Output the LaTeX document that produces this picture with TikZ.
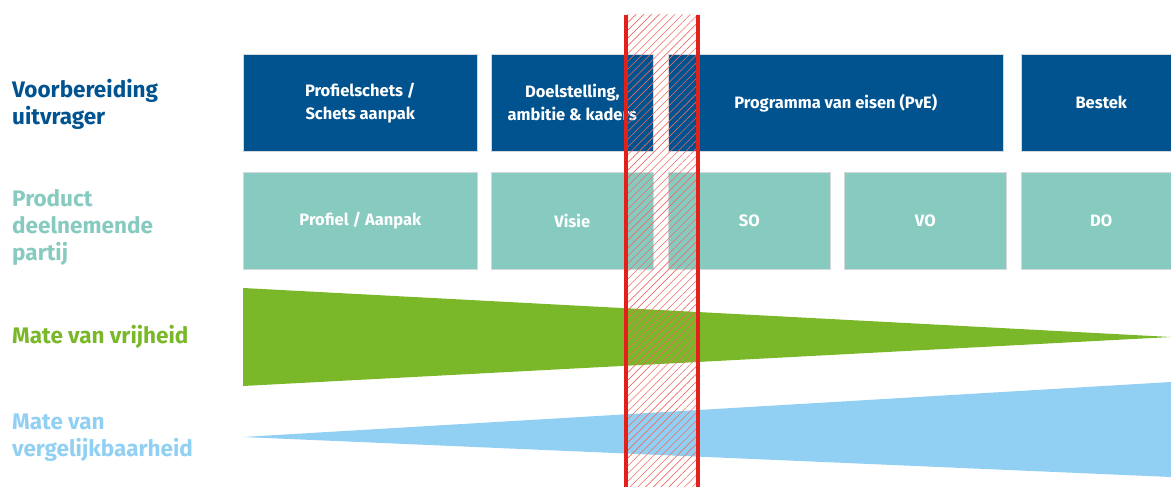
\documentclass[tikz,border=0pt]{standalone}
\usepackage{fontspec}
\setmainfont{Fira Sans}
\usetikzlibrary{patterns.meta}
\definecolor{dblue}{HTML}{01538F}
\definecolor{teal}{HTML}{87CABF}
\definecolor{vgreen}{HTML}{7AB829}
\definecolor{lblue}{HTML}{91D0F3}
\definecolor{vred}{HTML}{E2221A}
\definecolor{hatchred}{HTML}{EE6A64}
\definecolor{boxedge}{HTML}{D4D8DA}
\begin{document}
\begin{tikzpicture}[x=1pt,y=-1pt,
  box/.style={draw=boxedge, line width=0.6pt, anchor=north west, inner sep=0pt,
    font=\bfseries\fontsize{16.5}{23}\selectfont, text=white, align=center,
    minimum height=97pt},
  lab/.style={anchor=west, align=left, inner sep=0pt,
    font=\bfseries\fontsize{22.5}{27}\selectfont}]
\useasboundingbox (0,0) rectangle (1171,487);
\clip (0,0) rectangle (1171,487);
% labels
\node[lab, text=dblue] (l1) at (12,104) {Voorbereiding\\uitvrager};
\node[lab, text=teal] (l2) at (12,227) {Product\\deelnemende\\partij};
\node[lab, text=vgreen] (l3) at (12,337) {Mate van vrijheid};
\node[lab, text=lblue] (l4) at (12,438) {Mate van\\vergelijkbaarheid};
% top row
\node[box, fill=dblue, minimum width=234pt] (b1) at (243,54) {Profielschets /\\Schets aanpak};
\node[box, fill=dblue, minimum width=162pt] (b2) at (491,54) {Doelstelling,\\ambitie \& kaders};
\node[box, fill=dblue, minimum width=335pt] (b3) at (668,54) {Programma van eisen (PvE)};
\node[box, fill=dblue, minimum width=160pt] (b4) at (1021,54) {Bestek};
% second row
\node[box, fill=teal, minimum width=234pt] (c1) at (243,172) {Profiel / Aanpak};
\node[box, fill=teal, minimum width=162pt] (c2) at (491,172) {Visie};
\node[box, fill=teal, minimum width=162pt] (c3) at (668,172) {SO};
\node[box, fill=teal, minimum width=162pt] (c4) at (844,172) {VO};
\node[box, fill=teal, minimum width=160pt] (c5) at (1021,172) {DO};
% wedges
\fill[vgreen] (243,288) -- (243,386) -- (1171,337) -- cycle;
\fill[lblue] (243,437) -- (1171,382) -- (1171,477) -- cycle;
% hatched band
\fill[pattern={Lines[angle=45,distance=5.5pt,line width=0.6pt]}, pattern color=hatchred] (626,15) rectangle (698,487);
\draw[vred, line width=3.5pt] (626,15) -- (626,487);
\draw[vred, line width=3.5pt] (698,15) -- (698,487);
\end{tikzpicture}
\end{document}
